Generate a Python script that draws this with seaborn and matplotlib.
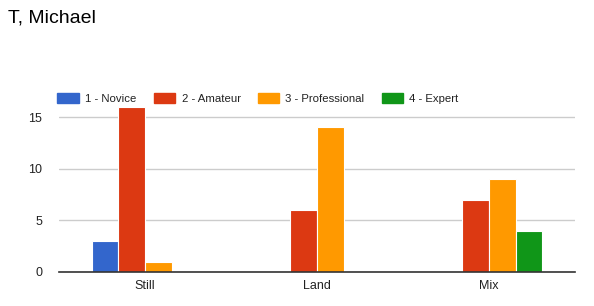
import matplotlib
matplotlib.use("Agg")
import matplotlib.pyplot as plt
import seaborn as sns
import pandas as pd

categories = ["Still", "Land", "Mix"]
levels = ["1 - Novice", "2 - Amateur", "3 - Professional", "4 - Expert"]
novice = [3, 0, 0]
amateur = [16, 6, 7]
professional = [1, 14, 9]
expert = [0, 0, 4]
colors = ["#3366cc", "#dc3912", "#ff9900", "#109618"]

rows = []
for lvl, vals in zip(levels, [novice, amateur, professional, expert]):
    for c, v in zip(categories, vals):
        rows.append({"cat": c, "level": lvl, "count": v})
df = pd.DataFrame(rows)

sns.set_theme(style="white")
plt.rcParams['font.family'] = ['Arial', 'Liberation Sans', 'DejaVu Sans']

fig = plt.figure(figsize=(5.94, 3.06), dpi=100)
ax = fig.add_axes([59/594, 1-272/306, (575-59)/594, (272-106.7)/306])

sns.barplot(data=df, x="cat", y="count", hue="level", order=categories,
            hue_order=levels, palette=colors, width=0.62, ax=ax, saturation=1,
            edgecolor="white", linewidth=0.8, errorbar=None, legend=False)

ax.set_ylim(0, 16)
ax.set_xlim(-0.5, 2.5)
ax.set_yticks([0, 5, 10, 15])
ax.yaxis.grid(True, color="#cccccc", linewidth=1)
ax.set_axisbelow(True)
for s in ["top", "right", "left"]:
    ax.spines[s].set_visible(False)
ax.spines["bottom"].set_color("#333333")
ax.spines["bottom"].set_linewidth(1.2)
ax.spines["bottom"].set_zorder(5)
ax.set_xlabel("")
ax.set_ylabel("")
ax.tick_params(axis="both", length=0, labelsize=9, colors="#222222")
ax.tick_params(axis="x", pad=6)
ax.tick_params(axis="y", pad=12)

fig.text(8/594, 1-18/306, "T, Michael", fontsize=14, color="#000000", va="center", ha="left")

from matplotlib.patches import Patch
handles = [Patch(facecolor=c, edgecolor=c, alpha=1) for c in colors]
fig.legend(handles, levels, loc="center left", bbox_to_anchor=(47/594, 1-98.5/306),
           ncol=4, frameon=False, fontsize=8.2, handlelength=1.9, handleheight=0.9,
           columnspacing=1.5, handletextpad=0.55, labelcolor="#222222")

fig.savefig("out.png", dpi=100)
